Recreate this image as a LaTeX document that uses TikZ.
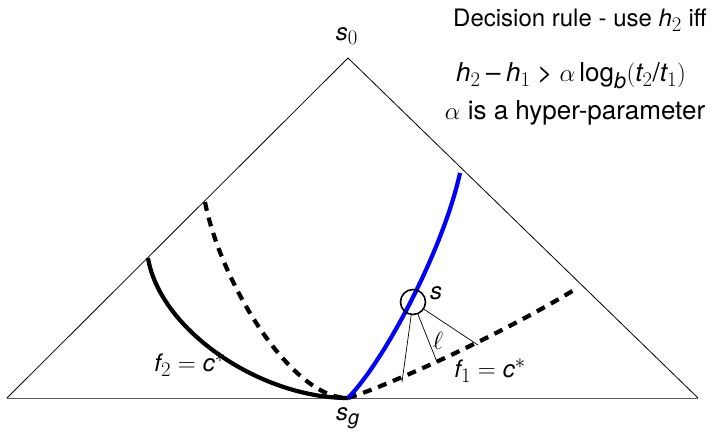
\documentclass[tikz,border=0pt]{standalone}
\usepackage{fontspec}
\setmainfont{TeX Gyre Heros}
\usepackage[italic]{mathastext}
\usepackage{tikz}
\usetikzlibrary{positioning, calc}

\begin{document}
\begin{tikzpicture}[x=1pt, y=-1pt,
        every node/.style={font=\fontsize{24}{28}\selectfont, inner sep=1pt},
        bigtext/.style={font=\fontsize{26}{30}\selectfont},
        edge/.style={line width=0.8pt},
        thickline/.style={line width=4.2pt},
        dashline/.style={line width=4.2pt, dash pattern=on 9pt off 7pt},
        guide/.style={line width=0.7pt}]
      \useasboundingbox (0,0) rectangle (715,431);
      % triangle corners and curve end points
      \coordinate (top) at (348,58);
      \coordinate (left) at (7,398);
      \coordinate (right) at (698,398);
      \coordinate (goal) at (348,398);
      \coordinate (f2end) at (148,258);
      \coordinate (h2end) at (205,202);
      \coordinate (blueend) at (460,173);
      \coordinate (f1end) at (574,290);
      \coordinate (p1) at (402,382);
      \coordinate (p2) at (437,362);
      \coordinate (p3) at (478,345);

      \draw[edge] (left) -- (top) -- (right);
      \draw[edge, black!65] (left) -- (right);

      \draw[thickline] (f2end) .. controls (160,330) and (260,398) .. (goal);
      \draw[dashline] (h2end) .. controls (220,280) and (290,398) .. (goal);
      \draw[dashline] (goal) .. controls (390,385) and (500,335) .. (f1end);
      \draw[thickline, blue] (goal) .. controls (385,360) and (443,250) .. (blueend);

      \node[draw, circle, line width=1.6pt, minimum size=25pt, inner sep=0pt] (s) at (413,302) {};
      \draw[guide] (s) -- (p1);
      \draw[guide] (s) -- (p2);
      \draw[guide] (s) -- (p3);

      \node (s0) at (347,36) {$s_0$};
      \node (sg) at (348,418) {$s_g$};
      \node (slbl) at (436,293) {$s$};
      \node (ell) at (438,341) {$\ell$};
      \node (f1lbl) at (490,371) {$f_1 = c^*$};
      \node (f2lbl) at (190,365) {$f_2 = c^*$};

      \node (rule1) at (580,20) {Decision rule - use $h_2$ iff};
      \node[bigtext] (rule2) at (571,76) {$h_2 - h_1 > \alpha \log_b(t_2/t_1)$};
      \node[bigtext] (rule3) at (575,113) {$\alpha$ is a hyper-parameter};
    \end{tikzpicture}
\end{document}
